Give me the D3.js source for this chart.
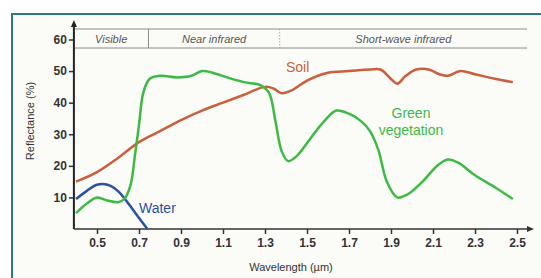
<!DOCTYPE html>
<html>
<head>
<meta charset="utf-8">
<script src="https://cdn.jsdelivr.net/npm/d3@7"></script>
<style>
  body { margin: 0; background: #fff; }
  svg { display: block; font-family: "Liberation Sans", Arial, sans-serif; }
</style>
</head>
<body>
<svg id="chart" width="541" height="278"></svg>
<script>
// data
const xTicks = [0.5, 0.7, 0.9, 1.1, 1.3, 1.5, 1.7, 1.9, 2.1, 2.3, 2.5];
const yTicks = [10, 20, 30, 40, 50, 60];

const soil = [
  [0.4, 15], [0.5, 18], [0.6, 22.5], [0.7, 27.5], [0.8, 31], [0.9, 34.5], [1.0, 37.5],
  [1.1, 40], [1.2, 42.5], [1.3, 45], [1.34, 44.5], [1.38, 43], [1.43, 44], [1.5, 47],
  [1.6, 49.5], [1.7, 50], [1.8, 50.5], [1.85, 50.5], [1.9, 47.5], [1.93, 46], [1.97, 48.5],
  [2.02, 50.5], [2.08, 50.5], [2.13, 49], [2.17, 48.5], [2.23, 50], [2.3, 49], [2.4, 47.5], [2.48, 46.5]
];
const vegetation = [
  [0.4, 5], [0.45, 8], [0.5, 10], [0.55, 9], [0.6, 8.5], [0.63, 9.5], [0.66, 14],
  [0.68, 23], [0.7, 33], [0.72, 43], [0.75, 47.5], [0.8, 48.5], [0.88, 48], [0.95, 48.5],
  [1.0, 50], [1.05, 49.5], [1.12, 48], [1.2, 46.5], [1.28, 45.5], [1.32, 43], [1.35, 34],
  [1.38, 24.5], [1.41, 21.5], [1.45, 23], [1.52, 29], [1.58, 34], [1.64, 37.5], [1.7, 36.5],
  [1.76, 34], [1.8, 31], [1.84, 25], [1.88, 15], [1.93, 10], [1.98, 11], [2.05, 15],
  [2.12, 20], [2.17, 22], [2.22, 21], [2.3, 17], [2.4, 13], [2.48, 9.5]
];
const water = [
  [0.4, 9.5], [0.45, 12], [0.5, 14], [0.55, 14], [0.6, 12], [0.65, 8], [0.7, 3.5], [0.74, 0]
];
const bands = [
  {name: "Visible", from: 0.39, to: 0.745},
  {name: "Near infrared", from: 0.745, to: 1.37},
  {name: "Short-wave infrared", from: 1.37, to: 2.55}
];

const svg = d3.select("#chart");

// panel
svg.append("rect").attr("x", 12).attr("y", 14).attr("width", 540).attr("height", 280)
  .attr("fill", "#fbfbf7").attr("stroke", "#2b7b77").attr("stroke-width", 2);

const x = d3.scaleLinear().domain([0.5, 2.5]).range([97, 517]);
const y = d3.scaleLinear().domain([0, 60]).range([229, 39.5]);
const x0 = x(0.39), xEnd = 529;

// band header
const hTop = 29, hBot = 48;
svg.append("line").attr("x1", x0).attr("x2", 527).attr("y1", hTop).attr("y2", hTop).attr("stroke", "#8a8a8a");
svg.append("line").attr("x1", x0).attr("x2", 527).attr("y1", hBot).attr("y2", hBot).attr("stroke", "#8a8a8a");
svg.append("line").attr("x1", x(bands[1].from)).attr("x2", x(bands[1].from))
  .attr("y1", hTop).attr("y2", hBot).attr("stroke", "#8a8a8a");
svg.append("line").attr("x1", x(bands[2].from)).attr("x2", x(bands[2].from))
  .attr("y1", hTop).attr("y2", hBot).attr("stroke", "#aaa").attr("stroke-dasharray", "1.5,1.5");
svg.selectAll(".band").data(bands).enter().append("text")
  .attr("x", d => (x(d.from) + Math.min(x(d.to), 527)) / 2)
  .attr("y", 42.5)
  .attr("text-anchor", "middle")
  .attr("font-size", 11).attr("font-style", "italic").attr("fill", "#555")
  .text(d => d.name);

// axes
const xAxis = d3.axisBottom(x).tickValues(xTicks).tickSize(5).tickPadding(4).tickFormat(d3.format(".1f"));
const gx = svg.append("g").attr("transform", "translate(0,229)").call(xAxis);
gx.select(".domain").remove();
const yAxis = d3.axisLeft(y).tickValues(yTicks).tickSize(5).tickPadding(2);
const gy = svg.append("g").attr("transform", `translate(${x0},0)`).call(yAxis);
gy.select(".domain").remove();
[gx, gy].forEach(g => {
  g.selectAll("line").attr("stroke", "#333").attr("stroke-width", 1.5);
  g.selectAll("text").attr("font-size", 12).attr("fill", "#333")
    .attr("font-family", "'Liberation Sans', Arial, sans-serif").attr("font-weight", "bold");
});

svg.append("line").attr("x1", x0).attr("x2", x0).attr("y1", 229).attr("y2", 25)
  .attr("stroke", "#222").attr("stroke-width", 2);
svg.append("path").attr("d", `M${x0 - 3},27 L${x0},20 L${x0 + 3},27 Z`).attr("fill", "#222");
svg.append("line").attr("x1", x0).attr("x2", xEnd).attr("y1", 229).attr("y2", 229)
  .attr("stroke", "#333").attr("stroke-width", 1.5);
svg.append("path").attr("d", `M${xEnd - 2},226 L${xEnd + 5},229 L${xEnd - 2},232 Z`).attr("fill", "#333");

svg.append("text").attr("transform", "translate(34,121) rotate(-90)")
  .attr("text-anchor", "middle").attr("font-size", 11).attr("fill", "#333").text("Reflectance (%)");
svg.append("text").attr("x", 291).attr("y", 271)
  .attr("text-anchor", "middle").attr("font-size", 11).attr("fill", "#333").text("Wavelength (µm)");

// curves
const line = d3.line().x(d => x(d[0])).y(d => y(d[1])).curve(d3.curveCatmullRom);
const series = [
  {data: soil, color: "#c95f3c"},
  {data: water, color: "#2b4fa3"},
  {data: vegetation, color: "#3dba45"}
];
svg.selectAll(".curve").data(series).enter().append("path")
  .attr("d", d => line(d.data))
  .attr("fill", "none").attr("stroke", d => d.color).attr("stroke-width", 2.5)
  .attr("stroke-linejoin", "round");

// labels
svg.append("text").attr("x", 286).attr("y", 72).attr("font-size", 14).attr("fill", "#c95f3c").text("Soil");
svg.append("text").attr("x", 411).attr("y", 118).attr("text-anchor", "middle")
  .attr("font-size", 14).attr("fill", "#3dba45").text("Green");
svg.append("text").attr("x", 411).attr("y", 135).attr("text-anchor", "middle")
  .attr("font-size", 14).attr("fill", "#3dba45").text("vegetation");
svg.append("text").attr("x", 139).attr("y", 213).attr("font-size", 14).attr("fill", "#2b4fa3").text("Water");
</script>
</body>
</html>
